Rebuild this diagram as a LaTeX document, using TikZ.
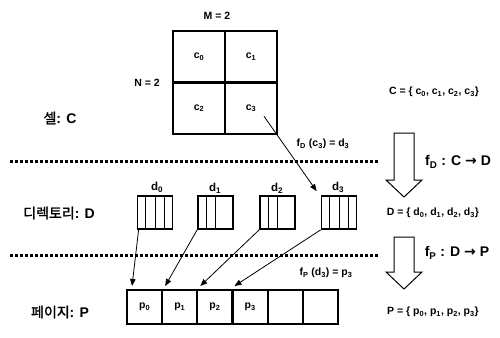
\documentclass[tikz,border=0pt]{standalone}
\usepackage{fontspec}
\setmainfont{Liberation Sans}
\newfontfamily\kr{Noto Sans CJK KR}[AutoFakeBold=1.5]
\newfontfamily\dv{DejaVu Sans}
\usetikzlibrary{arrows.meta,calc}

\begin{document}
\begin{tikzpicture}[x=1pt,y=-1pt,
  lbl/.style={font=\fontsize{10.5}{12}\selectfont\bfseries, inner sep=0pt},
  dlbl/.style={font=\fontsize{11.5}{13}\selectfont\bfseries, inner sep=0pt},
  big/.style={font=\fontsize{14}{16}\selectfont\bfseries, inner sep=0pt},
  cell/.style={draw, line width=2.2pt, minimum width=52pt, minimum height=51.5pt, inner sep=0pt,
    font=\fontsize{10.5}{12}\selectfont\bfseries},
  dbox/.style={draw, line width=1.8pt, minimum width=35pt, minimum height=33pt, inner sep=0pt},
  pbox/.style={draw, line width=2pt, minimum width=35.17pt, minimum height=34pt, inner sep=0pt,
    font=\fontsize{10.5}{12}\selectfont\bfseries},
  inner/.style={line width=0.9pt},
  conn/.style={line width=0.8pt, -{Triangle[length=7pt,width=5.5pt]}},
  dotline/.style={line width=3pt, dash pattern=on 3pt off 2pt},
  hollow/.style={draw, line width=1pt, line join=miter}
]
\useasboundingbox (0,0) rectangle (500,337);

% cells
\node[cell] (c0) at (199,56.75) {c\textsubscript{0}};
\node[cell] (c1) at (251,56.75) {c\textsubscript{1}};
\node[cell] (c2) at (199,108.25) {c\textsubscript{2}};
\node[cell] (c3) at (251,108.25) {c\textsubscript{3}};
\node[lbl] (M) at (217,16) {M = 2};
\node[lbl] (N) at (147,83) {N = 2};

% directory boxes
\node[dbox] (d0) at (155,212.5) {};
\node[dbox] (d1) at (215.5,212.5) {};
\node[dbox] (d2) at (277.5,212.5) {};
\node[dbox] (d3) at (339,212.5) {};
\foreach \b in {d0,d3}
  \foreach \f in {0.25,0.5,0.75}
    \draw[inner] ($(\b.north west)!\f!(\b.north east)$) -- ($(\b.south west)!\f!(\b.south east)$);
\foreach \b in {d1,d2}
  \foreach \f in {0.25,0.5}
    \draw[inner] ($(\b.north west)!\f!(\b.north east)$) -- ($(\b.south west)!\f!(\b.south east)$);
\node[dlbl] (d0l) at (157,187) {d\textsubscript{0}};
\node[dlbl] (d1l) at (215,188) {d\textsubscript{1}};
\node[dlbl] (d2l) at (277,188) {d\textsubscript{2}};
\node[dlbl] (d3l) at (338,187) {d\textsubscript{3}};

% page boxes
\node[pbox] (p0) at (144.6,307) {p\textsubscript{0}};
\node[pbox] (p1) at (179.75,307) {p\textsubscript{1}};
\node[pbox] (p2) at (214.9,307) {p\textsubscript{2}};
\node[pbox] (p3) at (250.1,307) {p\textsubscript{3}};
\node[pbox] (p4) at (285.25,307) {};
\node[pbox] (p5) at (320.4,307) {};

% separators
\draw[dotline] (10,161) -- (378,161);
\draw[dotline] (10,255) -- (378,255);

% connectors
\draw[conn] ([shift={(13,8)}]c3.center) -- ([shift={(-4,-4)}]d3.north west);
\draw[conn] ([xshift=2pt]d0.south west) -- ([shift={(6,-3)}]p0.north west);
\draw[conn] (d1.south west) -- ([shift={(4,-3)}]p1.north west);
\draw[conn] (d2.south west) -- ([shift={(4,-3)}]p2.north west);
\draw[conn] (d3.south west) -- ([shift={(3,-3)}]p3.north west);

% hollow arrows
\draw[hollow] (394,133) -- (414,133) -- (414,180) -- (422,180) -- (404,197) -- (386,180) -- (394,180) -- cycle;
\draw[hollow] (394,237) -- (414,237) -- (414,272) -- (422,272) -- (404,289) -- (386,272) -- (394,272) -- cycle;

% labels
\node[big] (Clab) at (60,118) {{\kr 셀}: C};
\node[big] (Dlab) at (59,213) {{\kr 디렉토리}: D};
\node[big] (Plab) at (60,312) {{\kr 페이지}: P};

\node[lbl] (Cset) at (434,92) {C = \{ c\textsubscript{0}, c\textsubscript{1}, c\textsubscript{2}, c\textsubscript{3}\}};
\node[lbl] (Dset) at (433,213) {D = \{ d\textsubscript{0}, d\textsubscript{1}, d\textsubscript{2}, d\textsubscript{3}\}};
\node[lbl] (Pset) at (433,312) {P = \{ p\textsubscript{0}, p\textsubscript{1}, p\textsubscript{2}, p\textsubscript{3}\}};

\node[lbl] (fdc) at (323,144) {f\textsubscript{D} (c\textsubscript{3}) = d\textsubscript{3}};
\node[lbl] (fpd) at (326,273) {f\textsubscript{P} (d\textsubscript{3}) = p\textsubscript{3}};

\node[big] (fD) at (458,162) {f\textsubscript{D} : C {\dv →} D};
\node[big] (fP) at (457,253) {f\textsubscript{P} : D {\dv →} P};
\end{tikzpicture}
\end{document}
